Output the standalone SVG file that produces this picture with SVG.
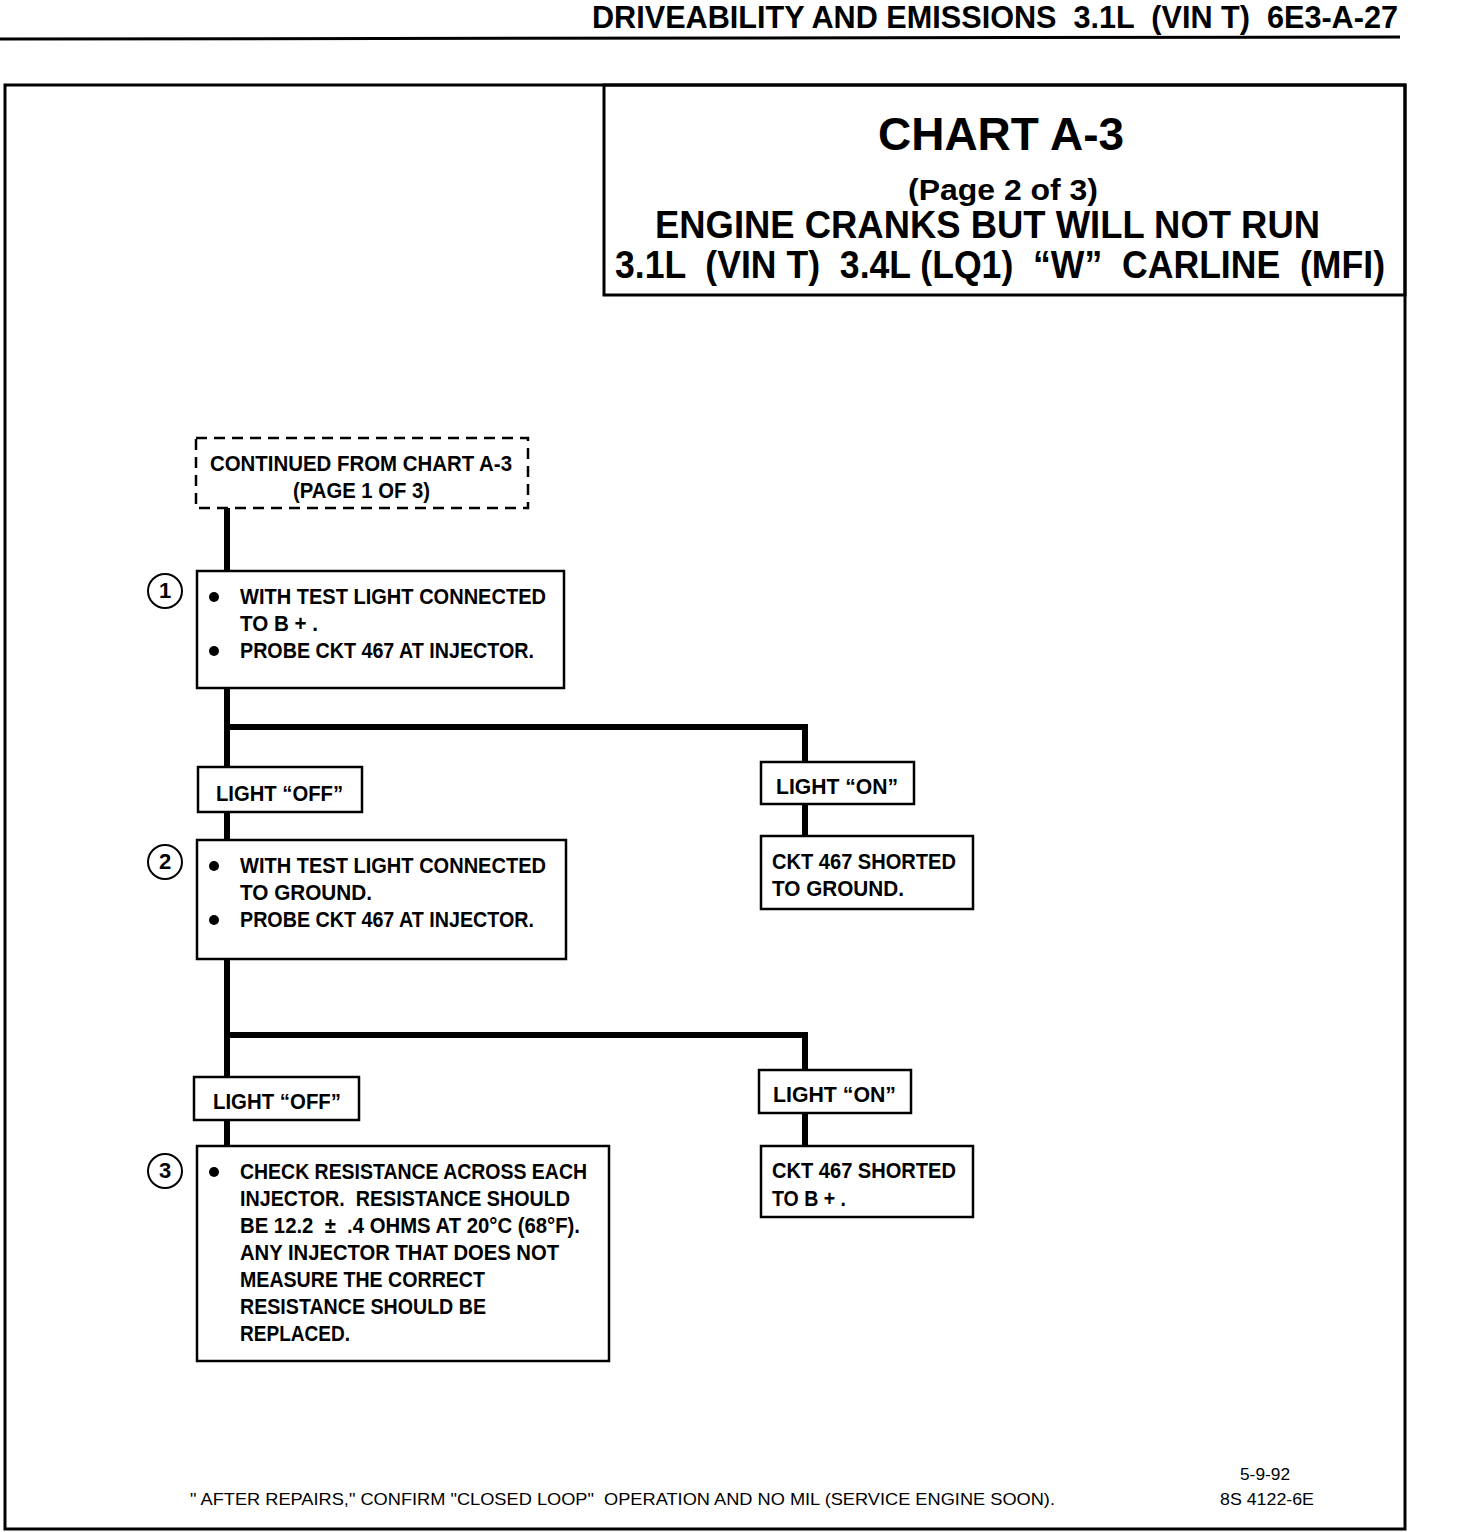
<svg xmlns="http://www.w3.org/2000/svg" width="1472" height="1532" viewBox="0 0 1472 1532">
<style>
text{font-family:"Liberation Sans Narrow","Liberation Sans",Arial,sans-serif;font-weight:bold;fill:#000}
.t{font-size:22px}
.box{fill:#fff;stroke:#000;stroke-width:2.5}
.con{stroke:#000;stroke-width:6;fill:none}
.num{fill:#fff;stroke:#000;stroke-width:2}
.foot{font-family:"Liberation Sans",Arial,sans-serif;font-weight:normal;font-size:17px}
</style>
<rect width="1472" height="1532" fill="#fff"/>
<g id="header">
<text x="592" y="28" font-size="32" textLength="806" lengthAdjust="spacingAndGlyphs" xml:space="preserve">DRIVEABILITY AND EMISSIONS  3.1L  (VIN T)  6E3-A-27</text>
<line x1="0" y1="39" x2="1400" y2="37" stroke="#000" stroke-width="3"/>
</g>
<rect id="frame" x="5" y="85" width="1400" height="1444" fill="none" stroke="#000" stroke-width="3"/>
<g id="title">
<rect x="604" y="85" width="801" height="210" fill="none" stroke="#000" stroke-width="3"/>
<text x="878" y="150" font-size="46" textLength="246" lengthAdjust="spacingAndGlyphs">CHART A-3</text>
<text x="908" y="200" font-size="30" textLength="190" lengthAdjust="spacingAndGlyphs">(Page 2 of 3)</text>
<text x="655" y="238" font-size="38" textLength="665" lengthAdjust="spacingAndGlyphs">ENGINE CRANKS BUT WILL NOT RUN</text>
<text x="615" y="278" font-size="38" textLength="770" lengthAdjust="spacingAndGlyphs" xml:space="preserve">3.1L  (VIN T)  3.4L (LQ1)  “W”  CARLINE  (MFI)</text>
</g>
<g id="connectors">
<line class="con" x1="227" y1="508" x2="227" y2="571"/>
<line class="con" x1="227" y1="688" x2="227" y2="767"/>
<polyline class="con" points="227,727 805,727 805,762"/>
<line class="con" x1="805" y1="804" x2="805" y2="836"/>
<line class="con" x1="227" y1="812" x2="227" y2="840"/>
<line class="con" x1="227" y1="959" x2="227" y2="1077"/>
<polyline class="con" points="227,1035 805,1035 805,1070"/>
<line class="con" x1="805" y1="1113" x2="805" y2="1146"/>
<line class="con" x1="227" y1="1120" x2="227" y2="1146"/>
</g>
<g id="start">
<rect x="196" y="438" width="332" height="70" fill="#fff" stroke="#000" stroke-width="2.5" stroke-dasharray="11,7"/>
<text class="t" x="210" y="471" textLength="302" lengthAdjust="spacingAndGlyphs">CONTINUED FROM CHART A-3</text>
<text class="t" x="293" y="498" textLength="137" lengthAdjust="spacingAndGlyphs">(PAGE 1 OF 3)</text>
</g>
<g id="step1">
<circle class="num" cx="165" cy="591" r="17"/>
<text class="t" x="165" y="598" text-anchor="middle" font-size="18">1</text>
<rect class="box" x="197" y="571" width="367" height="117"/>
<circle cx="214" cy="597" r="5"/>
<text class="t" x="240" y="604" textLength="306" lengthAdjust="spacingAndGlyphs">WITH TEST LIGHT CONNECTED</text>
<text class="t" x="240" y="631" textLength="78" lengthAdjust="spacingAndGlyphs">TO B + .</text>
<circle cx="214" cy="651" r="5"/>
<text class="t" x="240" y="658" textLength="294" lengthAdjust="spacingAndGlyphs">PROBE CKT 467 AT INJECTOR.</text>
</g>
<g id="off1">
<rect class="box" x="198" y="767" width="164" height="45"/>
<text class="t" x="216" y="801" textLength="127" lengthAdjust="spacingAndGlyphs">LIGHT “OFF”</text>
</g>
<g id="on1">
<rect class="box" x="761" y="762" width="153" height="42"/>
<text class="t" x="776" y="794" textLength="122" lengthAdjust="spacingAndGlyphs">LIGHT “ON”</text>
</g>
<g id="result1">
<rect class="box" x="761" y="836" width="212" height="73"/>
<text class="t" x="772" y="869" textLength="184" lengthAdjust="spacingAndGlyphs">CKT 467 SHORTED</text>
<text class="t" x="772" y="896" textLength="132" lengthAdjust="spacingAndGlyphs">TO GROUND.</text>
</g>
<g id="step2">
<circle class="num" cx="165" cy="862" r="17"/>
<text class="t" x="165" y="869" text-anchor="middle" font-size="18">2</text>
<rect class="box" x="197" y="840" width="369" height="119"/>
<circle cx="214" cy="866" r="5"/>
<text class="t" x="240" y="873" textLength="306" lengthAdjust="spacingAndGlyphs">WITH TEST LIGHT CONNECTED</text>
<text class="t" x="240" y="900" textLength="132" lengthAdjust="spacingAndGlyphs">TO GROUND.</text>
<circle cx="214" cy="920" r="5"/>
<text class="t" x="240" y="927" textLength="294" lengthAdjust="spacingAndGlyphs">PROBE CKT 467 AT INJECTOR.</text>
</g>
<g id="off2">
<rect class="box" x="194" y="1077" width="165" height="43"/>
<text class="t" x="213" y="1109" textLength="128" lengthAdjust="spacingAndGlyphs">LIGHT “OFF”</text>
</g>
<g id="on2">
<rect class="box" x="759" y="1070" width="152" height="43"/>
<text class="t" x="773" y="1102" textLength="123" lengthAdjust="spacingAndGlyphs">LIGHT “ON”</text>
</g>
<g id="result2">
<rect class="box" x="761" y="1146" width="212" height="71"/>
<text class="t" x="772" y="1178" textLength="184" lengthAdjust="spacingAndGlyphs">CKT 467 SHORTED</text>
<text class="t" x="772" y="1206" textLength="74" lengthAdjust="spacingAndGlyphs">TO B + .</text>
</g>
<g id="step3">
<circle class="num" cx="165" cy="1171" r="17"/>
<text class="t" x="165" y="1178" text-anchor="middle" font-size="18">3</text>
<rect class="box" x="197" y="1146" width="412" height="215"/>
<circle cx="214" cy="1172" r="5"/>
<text class="t" x="240" y="1179" textLength="347" lengthAdjust="spacingAndGlyphs">CHECK RESISTANCE ACROSS EACH</text>
<text class="t" x="240" y="1206" textLength="330" lengthAdjust="spacingAndGlyphs" xml:space="preserve">INJECTOR.  RESISTANCE SHOULD</text>
<text class="t" x="240" y="1233" textLength="340" lengthAdjust="spacingAndGlyphs" xml:space="preserve">BE 12.2  ±  .4 OHMS AT 20°C (68°F).</text>
<text class="t" x="240" y="1260" textLength="319" lengthAdjust="spacingAndGlyphs">ANY INJECTOR THAT DOES NOT</text>
<text class="t" x="240" y="1287" textLength="245" lengthAdjust="spacingAndGlyphs">MEASURE THE CORRECT</text>
<text class="t" x="240" y="1314" textLength="246" lengthAdjust="spacingAndGlyphs">RESISTANCE SHOULD BE</text>
<text class="t" x="240" y="1341" textLength="110" lengthAdjust="spacingAndGlyphs">REPLACED.</text>
</g>
<g id="footer">
<text class="foot" x="190" y="1505" textLength="865" lengthAdjust="spacingAndGlyphs" xml:space="preserve">" AFTER REPAIRS," CONFIRM "CLOSED LOOP"  OPERATION AND NO MIL (SERVICE ENGINE SOON).</text>
<text class="foot" x="1240" y="1480" textLength="50" lengthAdjust="spacingAndGlyphs">5-9-92</text>
<text class="foot" x="1220" y="1505" textLength="94" lengthAdjust="spacingAndGlyphs">8S 4122-6E</text>
</g>
</svg>
